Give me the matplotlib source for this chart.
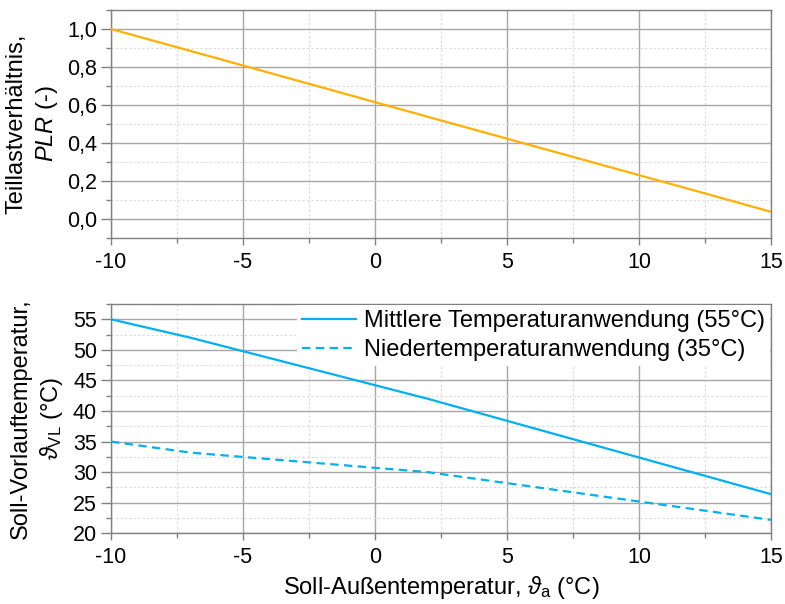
import matplotlib
matplotlib.use("Agg")
import matplotlib.pyplot as plt
from matplotlib.ticker import MultipleLocator, FixedLocator, FixedFormatter

plt.rcParams['font.family'] = ['Liberation Sans', 'DejaVu Sans']
plt.rcParams['mathtext.fontset'] = 'custom'
plt.rcParams['mathtext.rm'] = 'Liberation Sans'
plt.rcParams['mathtext.it'] = 'Liberation Sans:italic'
plt.rcParams['mathtext.bf'] = 'Liberation Sans:bold'

# ---- data ----
t_out = [-10, -7, 2, 7, 12, 15]
plr = [1.0, 0.885, 0.538, 0.346, 0.154, 0.038]
t_vl_mid = [55, 52, 42, 36, 30, 26.4]
t_vl_low = [35, 33.2, 30, 27, 24, 22.2]

x_ticks = [-10, -5, 0, 5, 10, 15]
x_ticklabels = ['-10', '-5', '0', '5', '10', '15']
plr_ticks = [0.0, 0.2, 0.4, 0.6, 0.8, 1.0]
plr_ticklabels = ['0,0', '0,2', '0,4', '0,6', '0,8', '1,0']
vl_ticks = [20, 25, 30, 35, 40, 45, 50, 55]
vl_ticklabels = ['20', '25', '30', '35', '40', '45', '50', '55']

label_mid = 'Mittlere Temperaturanwendung (55°C)'
label_low = 'Niedertemperaturanwendung (35°C)'

ORANGE = '#FFB000'
BLUE = '#00B0F0'
SPINE = '#808080'
TICK_FS = 15.5
LAB_FS = 17

fig = plt.figure(figsize=(7.85, 6.04), dpi=100)
W, H = 785, 604
ax1 = fig.add_axes([111 / W, 1 - 238 / H, (771 - 111) / W, (238 - 10) / H])
ax2 = fig.add_axes([111 / W, 1 - 533.3 / H, (771 - 111) / W, (533.3 - 304) / H])


def style(ax):
    for s in ax.spines.values():
        s.set_color(SPINE)
        s.set_linewidth(1.0)
    ax.set_xlim(-10, 15)
    ax.xaxis.set_major_locator(FixedLocator(x_ticks))
    ax.xaxis.set_major_formatter(FixedFormatter(x_ticklabels))
    ax.xaxis.set_minor_locator(MultipleLocator(2.5))
    ax.tick_params(which='major', direction='out', length=5, width=1.0,
                   color=SPINE, labelsize=TICK_FS, pad=5)
    ax.tick_params(which='minor', direction='out', length=3.5, width=1.0,
                   color=SPINE)
    ax.tick_params(axis='y', which='major', length=7, pad=3)
    ax.tick_params(axis='y', which='minor', length=3.5)
    ax.tick_params(axis='x', which='both', top=False)
    ax.tick_params(axis='y', which='both', right=False)
    ax.grid(which='major', color='#a6a6a6', linewidth=1.0, linestyle='-')
    ax.grid(which='minor', color='#d9d9d9', linewidth=0.8, linestyle=(0, (2, 2)))
    ax.set_axisbelow(True)


style(ax1)
ax1.plot(t_out, plr, color=ORANGE, linewidth=1.6, zorder=3)
ax1.set_ylim(-0.1, 1.1)
ax1.yaxis.set_major_locator(FixedLocator(plr_ticks))
ax1.yaxis.set_major_formatter(FixedFormatter(plr_ticklabels))
ax1.yaxis.set_minor_locator(MultipleLocator(0.1))
ax1.set_ylabel('Teillastverhältnis,\n$\\mathit{PLR}$ (-)', fontsize=LAB_FS,
               linespacing=1.35, labelpad=5)

style(ax2)
ax2.plot(t_out, t_vl_mid, color=BLUE, linewidth=1.6, zorder=3, label=label_mid)
ax2.plot(t_out, t_vl_low, color=BLUE, linewidth=1.6, linestyle=(0, (3.8, 2.4)),
         zorder=3, label=label_low)
ax2.set_ylim(20, 57.5)
ax2.yaxis.set_major_locator(FixedLocator(vl_ticks))
ax2.yaxis.set_major_formatter(FixedFormatter(vl_ticklabels))
ax2.yaxis.set_minor_locator(MultipleLocator(2.5))
ax2.set_ylabel('Soll-Vorlauftemperatur,\n$\\vartheta_{\\mathrm{VL}}$ (°C)',
               fontsize=LAB_FS, linespacing=1.3, labelpad=6)
ax2.set_xlabel('Soll-Außentemperatur, $\\vartheta_{\\mathrm{a}}$ (°C)',
               fontsize=LAB_FS, labelpad=4)

leg = ax2.legend(loc='upper right', fontsize=LAB_FS, frameon=True,
                 facecolor='white', edgecolor='none', framealpha=1.0,
                 handlelength=2.3, handletextpad=0.35, borderpad=0.2,
                 labelspacing=0.3, borderaxespad=0.05, fancybox=False)
leg.set_zorder(2.5)

fig.savefig('out.png', dpi=100)
